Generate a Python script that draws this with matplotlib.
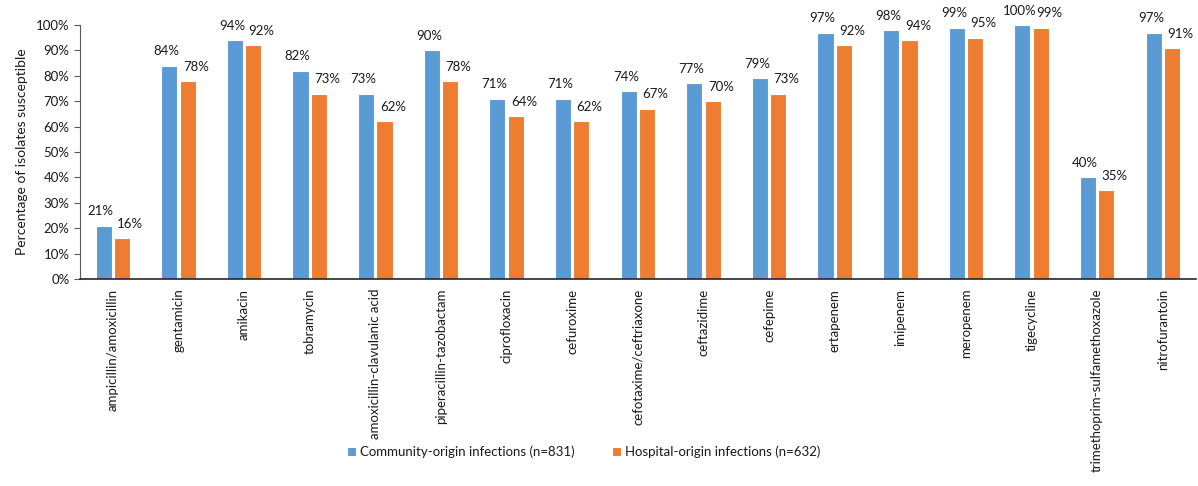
import matplotlib
matplotlib.use("Agg")
import matplotlib.pyplot as plt
import numpy as np
from matplotlib.ticker import PercentFormatter

plt.rcParams['font.family'] = ['Lato', 'DejaVu Sans']

antibiotics = [
    "ampicillin/amoxicillin", "gentamicin", "amikacin", "tobramycin",
    "amoxicillin-clavulanic acid", "piperacillin-tazobactam", "ciprofloxacin",
    "cefuroxime", "cefotaxime/ceftriaxone", "ceftazidime", "cefepime",
    "ertapenem", "imipenem", "meropenem", "tigecycline",
    "trimethoprim-sulfamethoxazole", "nitrofurantoin",
]
community = [21, 84, 94, 82, 73, 90, 71, 71, 74, 77, 79, 97, 98, 99, 100, 40, 97]
hospital = [16, 78, 92, 73, 62, 78, 64, 62, 67, 70, 73, 92, 94, 95, 99, 35, 91]
series_names = ["Community-origin infections (n=831)", "Hospital-origin infections (n=632)"]
colors = ["#5B9BD5", "#ED7D31"]
text_color = "#1a1a1a"

fig = plt.figure(figsize=(11.98, 4.86), dpi=100)
ax = fig.add_axes([0.0668, 0.426, 0.9312, 0.5226])

x = np.arange(len(antibiotics))
w = 0.245
offset = 0.14
b1 = ax.bar(x - offset, community, w, color=colors[0], edgecolor="white",
            linewidth=0.8, label=series_names[0])
b2 = ax.bar(x + offset, hospital, w, color=colors[1], edgecolor="white",
            linewidth=0.8, label=series_names[1])

for rect, v in zip(b1, community):
    ax.annotate(f"{v}%", (rect.get_x() + rect.get_width() / 2, v),
                xytext=(-2, 6), textcoords="offset points",
                ha="center", va="bottom", fontsize=9.5, color=text_color)
for rect, v in zip(b2, hospital):
    ax.annotate(f"{v}%", (rect.get_x() + rect.get_width() / 2, v),
                xytext=(6, 6), textcoords="offset points",
                ha="center", va="bottom", fontsize=9.5, color=text_color)

ax.set_xlim(-0.5, len(antibiotics) - 0.5)
ax.set_ylim(0, 100)
ax.set_yticks(np.arange(0, 101, 10))
ax.yaxis.set_major_formatter(PercentFormatter(decimals=0))
ax.set_xticks(x)
ax.set_xticklabels(antibiotics, rotation=90, fontsize=9.5, color=text_color)
ax.tick_params(axis="y", labelsize=9.5, labelcolor=text_color, length=4,
               color="#595959", width=0.8)
ax.tick_params(axis="x", length=0, pad=7)

for side in ("top", "right"):
    ax.spines[side].set_visible(False)
ax.spines["left"].set_color("#595959")
ax.spines["left"].set_linewidth(0.8)
ax.spines["bottom"].set_color("#262626")
ax.spines["bottom"].set_linewidth(1.2)

ax.set_ylabel("Percentage of isolates susceptible", fontsize=10, color=text_color,
              labelpad=6)

fig.legend(handles=[b1, b2], loc="center", bbox_to_anchor=(0.487, 0.07), ncol=2,
           frameon=False, fontsize=9.5, handlelength=0.7, handleheight=0.7,
           handletextpad=0.3, columnspacing=2.8, labelcolor=text_color)

fig.savefig("out.png", dpi=100)
